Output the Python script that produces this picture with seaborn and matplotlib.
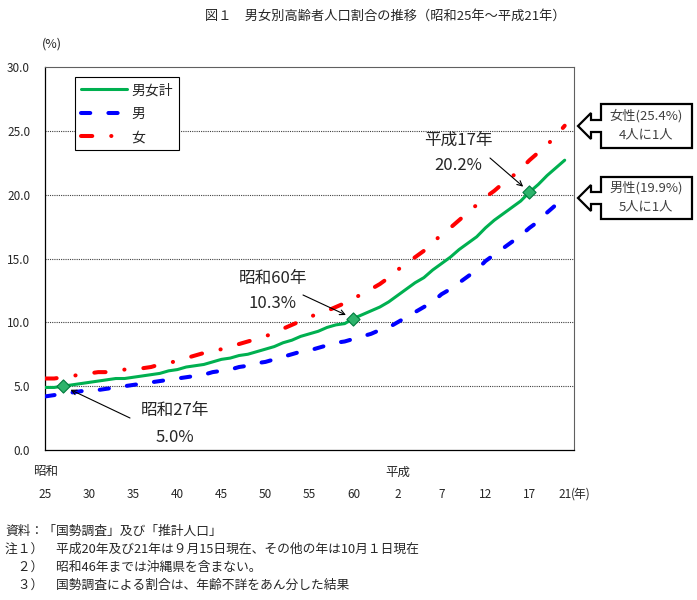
import pandas as pd
import matplotlib.pyplot as plt
import seaborn as sns
from matplotlib.patches import Polygon

# 高齢者人口割合 (%), 昭和25年(1950) ～ 平成21年(2009)
years = list(range(1950, 2010))
total = [4.9, 4.9, 5.0, 5.1, 5.2, 5.3, 5.4, 5.5, 5.6, 5.6,
         5.7, 5.8, 5.9, 6.0, 6.2, 6.3, 6.5, 6.6, 6.7, 6.9,
         7.1, 7.2, 7.4, 7.5, 7.7, 7.9, 8.1, 8.4, 8.6, 8.9,
         9.1, 9.3, 9.6, 9.8, 9.9, 10.3, 10.6, 10.9, 11.2, 11.6,
         12.1, 12.6, 13.1, 13.5, 14.1, 14.6, 15.1, 15.7, 16.2, 16.7,
         17.4, 18.0, 18.5, 19.0, 19.5, 20.2, 20.8, 21.5, 22.1, 22.7]
male = [4.2, 4.3, 4.4, 4.5, 4.6, 4.7, 4.7, 4.8, 4.9, 5.0,
        5.1, 5.2, 5.3, 5.4, 5.5, 5.6, 5.7, 5.8, 5.9, 6.1,
        6.2, 6.3, 6.5, 6.6, 6.8, 6.9, 7.1, 7.3, 7.5, 7.7,
        7.8, 8.0, 8.2, 8.4, 8.5, 8.7, 8.9, 9.1, 9.4, 9.6,
        10.0, 10.4, 10.8, 11.2, 11.6, 12.2, 12.6, 13.1, 13.6, 14.1,
        14.8, 15.3, 15.8, 16.3, 16.8, 17.4, 17.9, 18.6, 19.2, 19.9]
female = [5.6, 5.6, 5.7, 5.8, 5.9, 6.0, 6.1, 6.1, 6.2, 6.3,
          6.3, 6.4, 6.5, 6.7, 6.8, 7.0, 7.2, 7.4, 7.6, 7.7,
          7.9, 8.1, 8.3, 8.5, 8.7, 8.9, 9.2, 9.5, 9.8, 10.1,
          10.4, 10.7, 10.9, 11.2, 11.5, 11.9, 12.2, 12.6, 13.0, 13.5,
          14.1, 14.6, 15.1, 15.6, 16.2, 16.9, 17.4, 18.0, 18.6, 19.2,
          19.8, 20.3, 20.9, 21.4, 22.0, 22.7, 23.3, 23.9, 24.6, 25.4]

series_names = ['男女計', '男', '女']
series_colors = ['#00B050', '#0000FF', '#FF0000']

mark_years = [1952, 1985, 2005]
mark_names = ['昭和27年', '昭和60年', '平成17年']
mark_pcts = ['5.0%', '10.3%', '20.2%']

tick_years = [1950, 1955, 1960, 1965, 1970, 1975, 1980, 1985, 1990, 1995, 2000, 2005, 2009]
tick_labels = ['25', '30', '35', '40', '45', '50', '55', '60', '2', '7', '12', '17', '21']
era_years = [1950, 1990]
era_names = ['昭和', '平成']

callout_lines = [('女性(25.4%)', '4人に1人'), ('男性(19.9%)', '5人に1人')]

footnotes = ['資料：「国勢調査」及び「推計人口」',
             '注１）　平成20年及び21年は９月15日現在、その他の年は10月１日現在',
             '　２）　昭和46年までは沖縄県を含まない。',
             '　３）　国勢調査による割合は、年齢不詳をあん分した結果']

W, H = 697, 600


def fx(x):
    return x / W


def fy(y):
    return 1 - y / H


sns.set_theme(style='white')
plt.rcParams['font.family'] = ['Noto Sans CJK JP', 'DejaVu Sans']

df = pd.DataFrame({
    'year': years * 3,
    'value': total + male + female,
    'series': [n for n in series_names for _ in years],
})

fig = plt.figure(figsize=(W / 100, H / 100), dpi=100)
ax = fig.add_axes([fx(45.4), fy(450), fx(573.5) - fx(45.4), fy(67) - fy(450)])

# grid lines first so the series sit on top
for v in [5, 10, 15, 20, 25]:
    ax.axhline(v, color='#404040', lw=0.8, linestyle=(0, (1, 1)), zorder=1)

styles = [
    dict(lw=2.2, linestyle='-'),
    dict(lw=2.9, linestyle=(0, (2.3, 4.5)), dash_capstyle='round'),
    dict(lw=2.9, linestyle=(0, (2.8, 4.7, 0.05, 4.7)), dash_capstyle='round'),
]
for name, color, st in zip(series_names, series_colors, styles):
    sns.lineplot(data=df[df['series'] == name], x='year', y='value',
                 color=color, label=name, ax=ax, zorder=3, **st)

mark_vals = [total[years.index(y)] for y in mark_years]
sns.scatterplot(x=mark_years, y=mark_vals, marker='D', s=45, color='#2DB36B',
                edgecolor='#007A3D', linewidth=0.8, zorder=5, ax=ax, legend=False)

ax.set_xlim(1950, 2010)
ax.set_ylim(0, 30)
ax.set_xlabel('')
ax.set_ylabel('')
ax.set_yticks([0, 5, 10, 15, 20, 25, 30])
ax.set_yticklabels([f'{v:.1f}' for v in [0, 5, 10, 15, 20, 25, 30]], fontsize=8.5)
ax.tick_params(axis='y', length=0, pad=11)
ax.set_xticks(tick_years)
ax.set_xticklabels([])
ax.tick_params(axis='x', direction='in', length=3.5, width=0.7, color='#333333')

for s in ['left', 'bottom']:
    ax.spines[s].set_color('black')
    ax.spines[s].set_linewidth(0.9)
for s in ['top', 'right']:
    ax.spines[s].set_color('#606060')
    ax.spines[s].set_linewidth(0.8)
    ax.spines[s].set_linestyle((0, (1, 1)))

# x labels: era names and year numbers
xt = ax.get_xaxis_transform()
for yr, lab in zip(tick_years, tick_labels):
    ax.text(yr, -0.115, lab, transform=xt, ha='center', va='center', fontsize=8.5)
for yr, lab in zip(era_years, era_names):
    ax.text(yr, -0.057, lab, transform=xt, ha='center', va='center', fontsize=9)
ax.text(2009.75, -0.115, '(年)', transform=xt, ha='left', va='center', fontsize=8.5)

# legend
handles, labels = ax.get_legend_handles_labels()
ax.legend(handles, labels, loc='upper left', bbox_to_anchor=(fx(75), fy(77)),
          bbox_transform=fig.transFigure, borderaxespad=0, fontsize=10,
          handlelength=3.3, handletextpad=0.3, labelspacing=0.68, borderpad=0.45,
          frameon=True, fancybox=False, edgecolor='black', framealpha=1)
ax.get_legend().get_frame().set_linewidth(0.8)

# annotations on marked points
text_pos = [(175, 411, 437), (273, 278, 303), (458, 140, 165)]
tails = [(130, 418), (303, 295), (490, 158)]
for yr, val, nm, pc, (tx, ty1, ty2), (ax_, ay_) in zip(mark_years, mark_vals, mark_names,
                                                        mark_pcts, text_pos, tails):
    fig.text(fx(tx), fy(ty1), nm, ha='center', va='center', fontsize=12)
    fig.text(fx(tx), fy(ty2), pc, ha='center', va='center', fontsize=12)
    ax.annotate('', xy=(yr, val), xycoords='data',
                xytext=(fx(ax_), fy(ay_)), textcoords='figure fraction',
                arrowprops=dict(arrowstyle='->', color='black', lw=0.8,
                                shrinkA=0, shrinkB=6, mutation_scale=9))


# callouts on the right (left arrow shape)
def callout(top, bottom, lines):
    mid = (top + bottom) / 2
    pts = [(601, top), (692, top), (692, bottom), (601, bottom), (601, mid + 6),
           (591, mid + 6), (591, mid + 13), (578, mid), (591, mid - 13), (591, mid - 6),
           (601, mid - 6)]
    poly = Polygon([(fx(x), fy(y)) for x, y in pts], closed=True, facecolor='white',
                   edgecolor='black', lw=1.6, transform=fig.transFigure, zorder=6)
    fig.add_artist(poly)
    fig.text(fx(646), fy(mid - 10), lines[0], ha='center', va='center',
             fontsize=9.5, color='#404040', zorder=7)
    fig.text(fx(646), fy(mid + 9), lines[1], ha='center', va='center',
             fontsize=9.5, color='#404040', zorder=7)


callout(104, 148, callout_lines[0])
callout(177, 219, callout_lines[1])

fig.text(fx(385), fy(16), '図１　男女別高齢者人口割合の推移（昭和25年～平成21年）',
         ha='center', va='center', fontsize=9.5)
fig.text(fx(52), fy(44), '(%)', ha='center', va='center', fontsize=9)

for i, line in enumerate(footnotes):
    fig.text(fx(5), fy(531 + 18 * i), line, ha='left', va='center', fontsize=9.2)

fig.savefig('out.png', dpi=100)
